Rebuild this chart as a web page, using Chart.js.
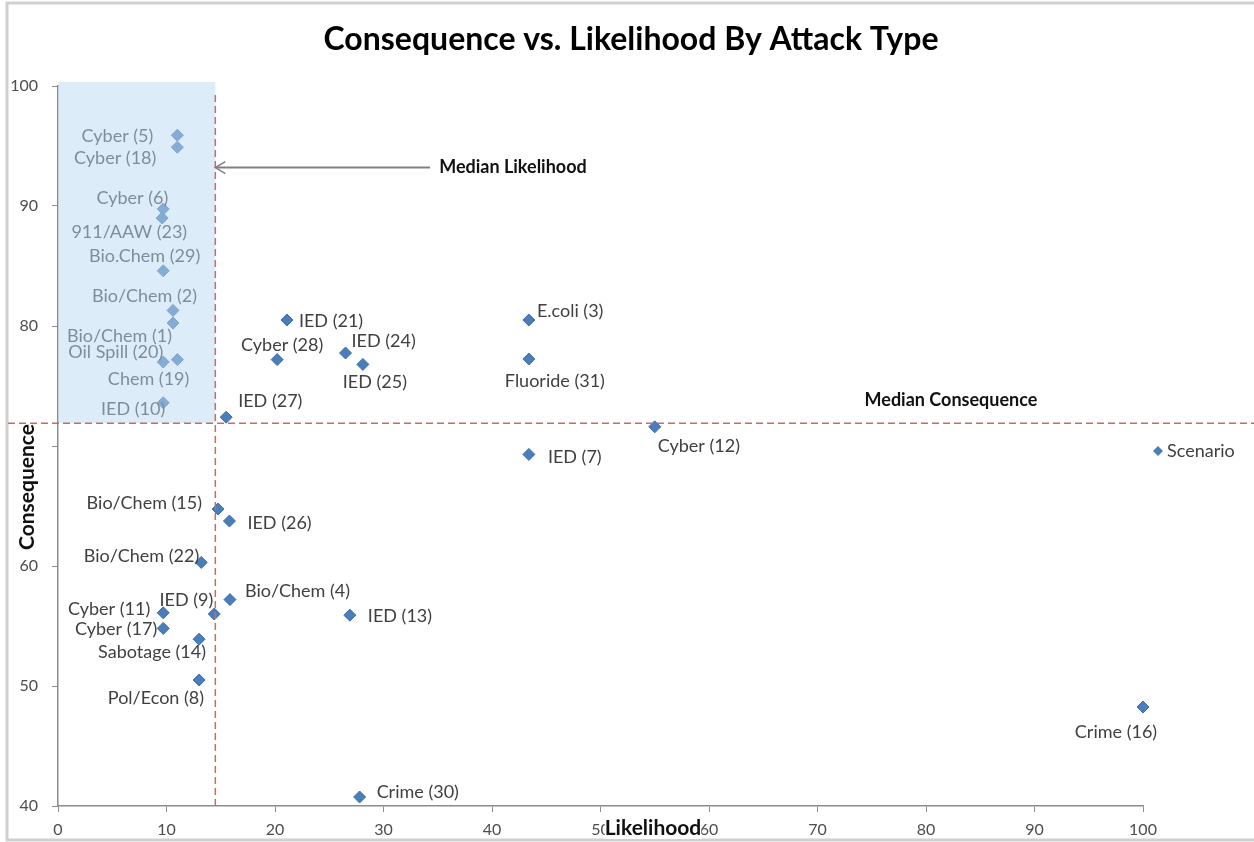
<!DOCTYPE html>
<html>
<head>
<meta charset="utf-8">
<script src="https://cdn.jsdelivr.net/npm/chart.js@4.4.1/dist/chart.umd.min.js"></script>
<style>
  html, body { margin: 0; padding: 0; background: #fff; }
  #wrap { width: 1254px; height: 842px; }
</style>
</head>
<body>
<div id="wrap"><canvas id="chart" width="1254" height="842"></canvas></div>
<script>
// ── DATA ────────────────────────────────────────────────────────────────────
const scenarios = [
  'Cyber (5)','Cyber (18)','Cyber (6)','911/AAW (23)','Bio.Chem (29)','Bio/Chem (2)','Bio/Chem (1)',
  'Oil Spill (20)','Chem (19)','IED (10)','IED (27)','IED (21)','Cyber (28)','IED (24)','IED (25)',
  'E.coli (3)','Fluoride (31)','Cyber (12)','IED (7)','Bio/Chem (15)','IED (26)','Bio/Chem (22)',
  'Bio/Chem (4)','IED (13)','Cyber (11)','IED (9)','Cyber (17)','Sabotage (14)','Pol/Econ (8)',
  'Crime (30)','Crime (16)'
];
const likelihood = [
  11.0, 11.0, 9.7, 9.6, 9.7, 10.6, 10.6,
  9.7, 11.0, 9.7, 15.5, 21.1, 20.2, 26.5, 28.1,
  43.4, 43.4, 55.0, 43.4, 14.75, 15.8, 13.2,
  15.85, 26.9, 9.7, 14.4, 9.7, 13.0, 13.0,
  27.8, 100
];
const consequence = [
  95.9, 94.9, 89.75, 89.0, 84.6, 81.3, 80.25,
  77.0, 77.2, 73.6, 72.4, 80.5, 77.2, 77.75, 76.8,
  80.5, 77.25, 71.6, 69.3, 64.75, 63.75, 60.3,
  57.2, 55.9, 56.1, 56.0, 54.8, 53.9, 50.5,
  40.75, 48.25
];
const xTickValues = [0, 10, 20, 30, 40, 50, 60, 70, 80, 90, 100];
const yTickValues = [40, 50, 60, 70, 80, 90, 100];
const medianLikelihood = 14.5;
const medianConsequence = 71.9;

// ── LAYOUT DOS RÓTULOS (alinhamento, dx, dy em px a partir do ponto) ────────
const labelPlace = [
  ['right',-24,1], ['right',-21,11], ['right',5,-11], ['right',25,14], ['right',37,-15], ['right',24,-14], ['right',-1,13],
  ['right',0,-10], ['right',12,20], ['right',2,6], ['left',12,-16], ['left',12,1], ['center',5,-14], ['left',6,-12], ['center',12,18],
  ['left',8,-9], ['center',26,22], ['left',3,19], ['left',19,3], ['right',-16,-6], ['left',18,2], ['right',-2,-6],
  ['left',15,-8], ['left',18,1], ['right',-13,-4], ['right',-1,-14], ['right',-6,1], ['right',7,13], ['right',5,18],
  ['left',17,-5], ['center',-27,25]
];

const FONT = 'Lato, "Open Sans", sans-serif';
const MARKER = '#4a7ebb';

// ── DESENHO EXTRA ───────────────────────────────────────────────────────────
const decor = {
  id: 'decor',
  beforeDraw(chart) {
    const ctx = chart.ctx;
    ctx.save();
    ctx.fillStyle = '#fff';
    ctx.fillRect(0, 0, chart.width, chart.height);
    // moldura
    ctx.strokeStyle = '#d0d0d0';
    ctx.lineWidth = 3;
    ctx.beginPath();
    ctx.moveTo(chart.width + 2, 840); ctx.lineTo(7, 840); ctx.lineTo(7, 3); ctx.lineTo(chart.width + 2, 3);
    ctx.stroke();
    ctx.restore();
  },
  afterDatasetsDraw(chart) {
    const ctx = chart.ctx, xs = chart.scales.x, ys = chart.scales.y, area = chart.chartArea;
    const meta = chart.getDatasetMeta(0);
    ctx.save();

    // rótulos dos pontos
    ctx.font = '18px ' + FONT;
    ctx.fillStyle = '#404040';
    ctx.textBaseline = 'middle';
    meta.data.forEach((pt, i) => {
      const [al, dx, dy] = labelPlace[i];
      ctx.textAlign = al;
      ctx.fillText(scenarios[i], pt.x + dx, pt.y + dy);
    });

    // quadrante sombreado
    const mx = xs.getPixelForValue(medianLikelihood);
    const my = ys.getPixelForValue(medianConsequence);
    ctx.fillStyle = 'rgba(188,218,244,0.5)';
    ctx.fillRect(area.left, area.top - 4, mx - area.left, my - area.top + 4);

    // linhas de mediana
    ctx.strokeStyle = '#cc6a66';
    ctx.lineWidth = 1.5;
    ctx.setLineDash([7, 4]);
    ctx.beginPath(); ctx.moveTo(mx, area.top + 9); ctx.lineTo(mx, area.bottom + 2); ctx.stroke();
    ctx.beginPath(); ctx.moveTo(8, my); ctx.lineTo(chart.width, my); ctx.stroke();
    ctx.setLineDash([]);

    // seta "Median Likelihood"
    const ay = ys.getPixelForValue(93.2);
    const ax = xs.getPixelForValue(34.3);
    ctx.strokeStyle = '#808080';
    ctx.lineWidth = 2;
    ctx.beginPath(); ctx.moveTo(ax, ay); ctx.lineTo(mx, ay); ctx.stroke();
    ctx.lineWidth = 1.5;
    ctx.beginPath(); ctx.moveTo(mx + 10, ay - 6); ctx.lineTo(mx, ay); ctx.lineTo(mx + 10, ay + 6); ctx.stroke();

    ctx.font = 'bold 18px ' + FONT;
    ctx.fillStyle = '#111';
    ctx.textAlign = 'left';
    ctx.fillText('Median Likelihood', ax + 9, ay);
    ctx.textAlign = 'center';
    ctx.fillText('Median Consequence', xs.getPixelForValue(82.3), my - 23);

    // títulos dos eixos (por cima dos ticks, como no original)
    ctx.font = 'bold 21px ' + FONT;
    let w = ctx.measureText('Likelihood').width;
    ctx.fillStyle = '#fff';
    ctx.fillRect(653 - w / 2, 817, w, 22);
    ctx.fillStyle = '#111';
    ctx.fillText('Likelihood', 653, 828);

    ctx.save();
    ctx.translate(27, 487);
    ctx.rotate(-Math.PI / 2);
    w = ctx.measureText('Consequence').width;
    ctx.fillStyle = '#fff';
    ctx.fillRect(-w / 2, -11, w, 22);
    ctx.fillStyle = '#111';
    ctx.fillText('Consequence', 0, 0);
    ctx.restore();

    // título
    ctx.font = 'bold 32px ' + FONT;
    ctx.fillStyle = '#000';
    ctx.fillText('Consequence vs. Likelihood By Attack Type', 631, 40);

    // legenda
    const lx = 1158, ly = 451;
    ctx.fillStyle = MARKER;
    ctx.beginPath();
    ctx.moveTo(lx, ly - 5); ctx.lineTo(lx + 5, ly); ctx.lineTo(lx, ly + 5); ctx.lineTo(lx - 5, ly); ctx.closePath();
    ctx.fill();
    ctx.font = '18px ' + FONT;
    ctx.fillStyle = '#404040';
    ctx.textAlign = 'left';
    ctx.fillText('Scenario', lx + 9, ly);

    ctx.restore();
  }
};

const points = likelihood.map((x, i) => ({ x, y: consequence[i] }));

new Chart(document.getElementById('chart'), {
  type: 'scatter',
  data: {
    datasets: [{
      label: 'Scenario',
      data: points,
      pointStyle: 'rectRot',
      pointRadius: 6,
      pointHoverRadius: 6,
      backgroundColor: MARKER,
      borderColor: '#3f70ab',
      borderWidth: 1,
      clip: false
    }]
  },
  options: {
    responsive: false,
    animation: false,
    layout: { padding: { top: 86, right: 111, left: 0, bottom: 0 } },
    plugins: { legend: { display: false }, title: { display: false }, tooltip: { enabled: false } },
    scales: {
      x: {
        type: 'linear', min: 0, max: 100,
        afterBuildTicks: s => { s.ticks = xTickValues.map(v => ({ value: v })); },
        afterFit: s => { s.height = 36; },
        ticks: { autoSkip: false, maxRotation: 0, padding: 8, color: '#4d4d4d', font: { family: FONT, size: 16 } },
        grid: { drawOnChartArea: false, tickLength: 6, color: '#8c8c8c' },
        border: { color: '#8c8c8c', width: 1.5 }
      },
      y: {
        type: 'linear', min: 40, max: 100,
        afterBuildTicks: s => { s.ticks = yTickValues.map(v => ({ value: v })); },
        afterFit: s => { s.width = 58; },
        ticks: { autoSkip: false, padding: 14, color: '#4d4d4d', font: { family: FONT, size: 16 } },
        grid: { drawOnChartArea: false, tickLength: 6, color: '#8c8c8c' },
        border: { color: '#8c8c8c', width: 1.5 }
      }
    }
  },
  plugins: [decor]
});
</script>
</body>
</html>
